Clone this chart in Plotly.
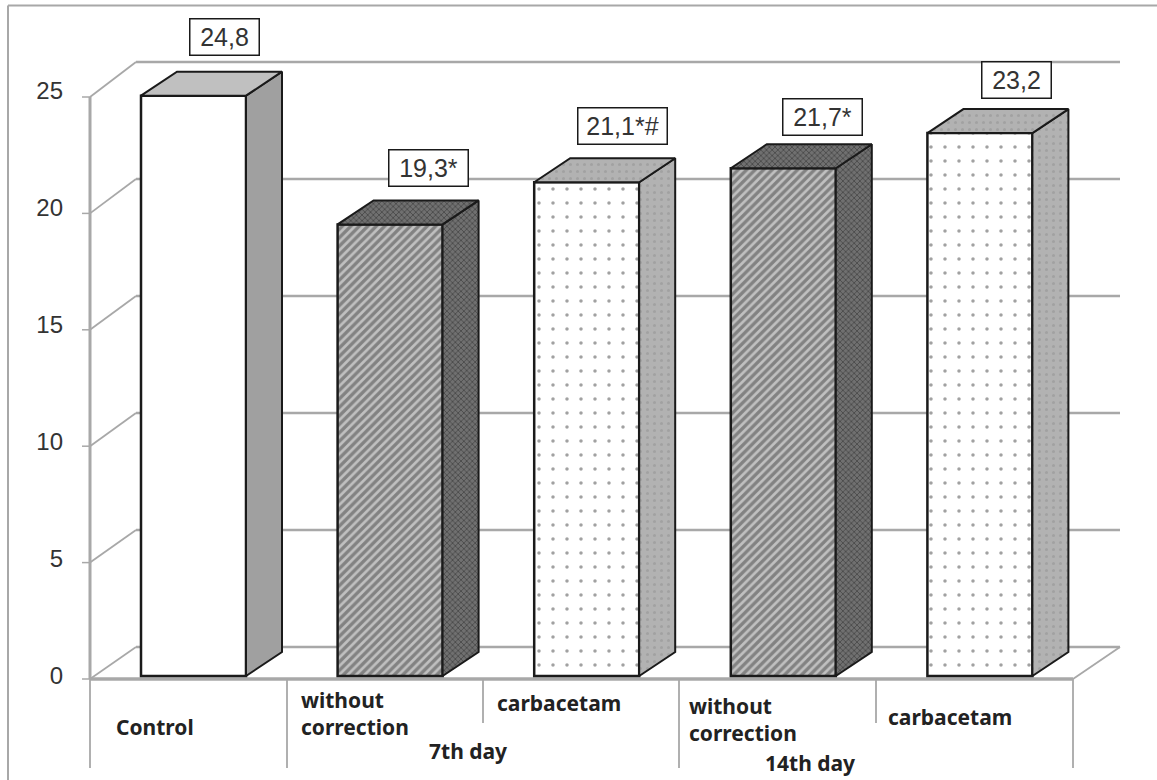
import plotly.graph_objects as go

categories = ["Control", "without<br>correction", "carbacetam", "without<br>correction", "carbacetam"]
values = [24.8, 19.3, 21.1, 21.7, 23.2]
value_labels = ["24,8", "19,3*", "21,1*#", "21,7*", "23,2"]
group_labels = ["7th day", "14th day"]
y_ticks = [0, 5, 10, 15, 20, 25]

W, H = 1157, 780
PX_X0, PX_XU = 193.5, 196.6   # pixel of category 0, pixels per category
PX_Y0, PX_YU = 676.0, 23.4    # pixel of value 0, pixels per unit
xr = [(0 - PX_X0) / PX_XU, (W - PX_X0) / PX_XU]
yr = [(PX_Y0 - H) / PX_YU, PX_Y0 / PX_YU]

def xu(px): return (px - PX_X0) / PX_XU
def yu(py): return (PX_Y0 - py) / PX_YU

BAR_W = 105 / PX_XU
DX, DY = 36 / PX_XU, 24 / PX_YU
GRID = "#a8a8a8"
INK = "#1a1a1a"

hatch = dict(shape="/", fgcolor="#1e1e1e", bgcolor="#d8d8d8", size=6, solidity=0.55)
hatch_dark = dict(shape="x", fgcolor="#262626", bgcolor="#707070", size=4, solidity=0.4)
dots = dict(shape=".", fgcolor="#6a6a6a", bgcolor="#ffffff", size=14, solidity=0.05)
dots_dark = dict(shape=".", fgcolor="#909090", bgcolor="#b2b2b2", size=7, solidity=0.15)
plain = dict(shape="")

front_pat = [plain, hatch, dots, hatch, dots]
top_pat = [dict(shape="", bgcolor="#c0c0c0"), hatch_dark, dots_dark, hatch_dark, dots_dark]
side_pat = [dict(shape="", bgcolor="#a0a0a0"), hatch_dark, dots_dark, hatch_dark, dots_dark]
top_col = ["#c0c0c0", "#5e5e5e", "#b4b4b4", "#5e5e5e", "#b4b4b4"]
side_col = ["#a0a0a0", "#5a5a5a", "#a4a4a4", "#5a5a5a", "#a4a4a4"]
front_col = ["#ffffff", "#c0c0c0", "#ffffff", "#c0c0c0", "#ffffff"]

fig = go.Figure()

xs = list(range(len(values)))
fig.add_trace(go.Bar(
    x=xs, y=values, width=BAR_W,
    marker=dict(
        color=front_col,
        line=dict(color=INK, width=2.5),
        pattern=dict(
            shape=[p.get("shape", "") for p in front_pat],
            fgcolor=[p.get("fgcolor", "#000") for p in front_pat],
            bgcolor=[p.get("bgcolor", "#fff") for p in front_pat],
            size=[p.get("size", 8) for p in front_pat],
            solidity=[p.get("solidity", 0.3) for p in front_pat],
        ),
    ),
    showlegend=False, hoverinfo="skip",
))

for i, v in enumerate(values):
    l, r = i - BAR_W / 2, i + BAR_W / 2
    # side face
    fig.add_trace(go.Scatter(
        x=[r, r + DX, r + DX, r, r], y=[0, DY, v + DY, v, 0], mode="lines",
        fill="toself", fillcolor=side_col[i],
        fillpattern=side_pat[i] if side_pat[i].get("shape") else None,
        line=dict(color=INK, width=2), showlegend=False, hoverinfo="skip"))
    # top face
    fig.add_trace(go.Scatter(
        x=[l, r, r + DX, l + DX, l], y=[v, v, v + DY, v + DY, v], mode="lines",
        fill="toself", fillcolor=top_col[i],
        fillpattern=top_pat[i] if top_pat[i].get("shape") else None,
        line=dict(color=INK, width=2), showlegend=False, hoverinfo="skip"))

shapes = []
def line(x0, y0, x1, y1, color=GRID, width=2.5, xref="x", yref="y"):
    shapes.append(dict(type="line", layer="below", xref=xref, yref=yref,
                       x0=x0, y0=y0, x1=x1, y1=y1, line=dict(color=color, width=width)))

F_L, F_R = xu(90), xu(1073)
W_L, W_R = xu(136), xu(1120)

def front_y(v):
    return yu(679 - 23.28 * v)
def back_y(v):
    return yu(647 - 23.4 * v)

for v in y_ticks:
    line(W_L, back_y(v), W_R, back_y(v))
    line(F_L, front_y(v), W_L, back_y(v), width=1.8)
    line(xu(82), front_y(v), F_L, front_y(v), width=1.5)
line(F_L, front_y(0), F_L, front_y(25), width=3)
line(F_L, front_y(0), F_R, front_y(0), width=3.5)
line(F_R, front_y(0), W_R, back_y(0), width=1.8)
# category separators
for px, py in [(90, 768), (287, 768), (483, 723), (679, 768), (876, 723), (1073, 768)]:
    line(xu(px), front_y(0), xu(px), yu(py), width=1.8)
# outer frame
line(xu(8), yu(5.5), xu(1157), yu(5.5), width=2)
line(xu(8), yu(5.5), xu(8), yu(780), width=2)

annots = []
label_shift = [(31, 59), (38, 56), (36, 56), (39, 51), (37, 53)]
label_size = [(68, 35), (78, 35), (88, 35), (78, 35), (68, 35)]
for i, (v, t) in enumerate(zip(values, value_labels)):
    annots.append(dict(x=i, y=v, xref="x", yref="y", text=t, showarrow=False,
                       xanchor="center", yanchor="middle",
                       xshift=label_shift[i][0], yshift=label_shift[i][1],
                       width=label_size[i][0], height=label_size[i][1],
                       bgcolor="#ffffff", bordercolor=INK, borderwidth=1.5, borderpad=0,
                       font=dict(family="Liberation Sans", size=25, color="#333333")))

CAT_FONT = dict(family="Noto Sans", size=21, color="#222222")
cat_pos = [(114, 727), (299, 713), (495, 703), (687, 719), (886, 717)]
for t, (px, py) in zip(categories, cat_pos):
    annots.append(dict(x=xu(px), y=yu(py), xref="x", yref="y", text="<b>%s</b>" % t, showarrow=False,
                       xanchor="left", yanchor="middle", align="left", font=CAT_FONT))
for t, (px, py) in zip(group_labels, [(427, 751), (763, 763)]):
    annots.append(dict(x=xu(px), y=yu(py), xref="x", yref="y", text="<b>%s</b>" % t, showarrow=False,
                       xanchor="left", yanchor="middle", font=CAT_FONT))

fig.update_layout(
    width=W, height=H, margin=dict(l=0, r=0, t=0, b=0),
    paper_bgcolor="#ffffff", plot_bgcolor="#ffffff", showlegend=False,
    shapes=shapes, annotations=annots,
    xaxis=dict(range=xr, visible=False, fixedrange=True),
    yaxis=dict(range=yr, anchor="free", position=90 / W, tickmode="array", tickvals=y_ticks,
               ticktext=[str(t) for t in y_ticks], showgrid=False, zeroline=False, showline=False,
               ticks="", ticklabelstandoff=27, fixedrange=True,
               tickfont=dict(family="Liberation Sans", size=24, color="#333333")),
)
fig.write_html("out.html", post_script="document.body.style.margin='0';", config=dict(displayModeBar=False))
